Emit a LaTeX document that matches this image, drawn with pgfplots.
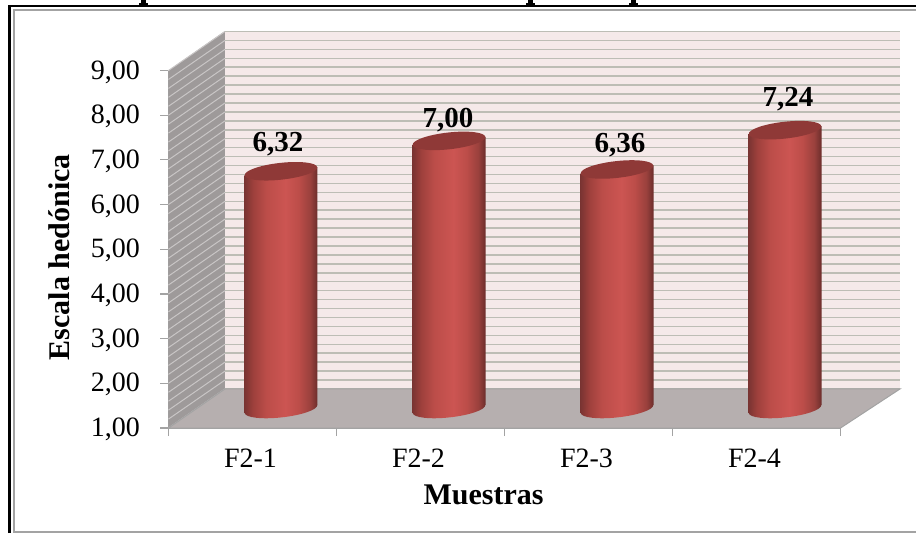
\documentclass[border=0pt]{standalone}
\usepackage{fontspec}
\setmainfont{Liberation Serif}
\usepackage{pgfplots}
\usepackage{pgfplotstable}
\pgfplotsset{compat=1.18}

\definecolor{backwall}{HTML}{F5E9E9}
\definecolor{gridc}{HTML}{BDBDB5}
\definecolor{sidewall}{HTML}{9E9A9A}
\definecolor{sideline}{HTML}{C9C6C6}
\definecolor{floorc}{HTML}{B6AFAF}
\definecolor{axisc}{HTML}{A3A3A3}
\definecolor{capc}{HTML}{8F3937}
\definecolor{cyl0}{HTML}{7A3432}
\definecolor{cyl1}{HTML}{9E403C}
\definecolor{cyl2}{HTML}{BC4D49}
\definecolor{cyl3}{HTML}{CC5552}
\definecolor{cyl4}{HTML}{9A413D}
\definecolor{cyl5}{HTML}{6C2D2B}

% cylinder body, visible part is 25bp..75bp
\pgfdeclarehorizontalshading{cyl}{100bp}{
  color(0bp)=(cyl0); color(25bp)=(cyl0); color(31bp)=(cyl1);
  color(40bp)=(cyl2); color(53bp)=(cyl3); color(62bp)=(cyl2); color(70bp)=(cyl4);
  color(75bp)=(cyl5); color(100bp)=(cyl5)}

\pgfdeclareplotmark{cylbase}{\pgfscope
  \pgftransformshift{\pgfpoint{28.5pt}{19pt}}%
  \pgftransformrotate{6.3}%
  \pgfpathellipse{\pgfpointorigin}{\pgfpoint{36.5pt}{0pt}}{\pgfpoint{0pt}{8.4pt}}%
  \pgfshadepath{cyl}{0}\pgfusepath{discard}\endpgfscope}
\pgfdeclareplotmark{cyltop}{\pgfscope
  \pgftransformshift{\pgfpoint{28.5pt}{19pt}}%
  \pgftransformrotate{6.3}%
  \pgfpathellipse{\pgfpointorigin}{\pgfpoint{36.5pt}{0pt}}{\pgfpoint{0pt}{8.4pt}}%
  \pgfsetfillcolor{capc}\pgfusepath{fill}\endpgfscope}

\pgfplotstableread{
x y dx dy
0 6.32 25.5 46
1 7.00 27.5 40
2 6.36 31.5 43.5
3 7.24 31.5 50
}\scores

\begin{document}
\begin{tikzpicture}
  \path[use as bounding box] (-168.5pt,-105pt) rectangle (747.5pt,428pt);
  % chart frame, title is cut off by the image edge
  \draw[black,line width=2.6pt] (-159pt,-105pt) -- (-159pt,422pt) -- (747.5pt,422pt);
  \draw[axisc,line width=2.2pt] (-154.5pt,-105pt) -- (-154.5pt,418pt) -- (747.5pt,418pt);
  \draw[axisc,line width=1.5pt] (-154.5pt,-104pt) -- (747.5pt,-104pt);
  \foreach \tx in {-25,362,465}{
    \fill[black] (\tx pt-2.5pt,423pt) rectangle (\tx pt+2.5pt,428pt);
    \fill[black] (\tx pt-4.5pt,423pt) rectangle (\tx pt+4.5pt,425pt);
  }
  \begin{axis}[
    scale only axis,
    width=672pt, height=357.5pt,
    clip=false,
    xmin=-0.5, xmax=3.5,
    ymin=1, ymax=9,
    axis lines=left,
    axis line style={-,draw=axisc,line width=1.4pt},
    tick style={draw=axisc,line width=1.2pt},
    tick align=outside,
    major tick length=8pt,
    xtick={-0.5,0.5,1.5,2.5,3.5},
    xticklabels={F2-1,F2-2,F2-3,F2-4,{}},
    ytick={1,2,...,9},
    tick label style={font=\fontsize{28}{30}\selectfont},
    xticklabel style={xshift=82pt,yshift=-9pt},
    yticklabel style={xshift=-17pt,yshift=-1.5pt},
    /pgf/number format/.cd,fixed,fixed zerofill,precision=2,use comma,assume math mode=true,
    /pgfplots/.cd,
    xlabel={Muestras},
    ylabel={Escala hedónica},
    label style={font=\fontsize{30}{32}\selectfont\bfseries},
    xlabel style={at={(axis description cs:0.469,-0.187)},anchor=center},
    ylabel style={at={(axis description cs:-0.163,0.478)},anchor=center},
  ]
    % walls
    \addplot[fill=backwall,draw=none] coordinates {(-0.164,1.873) (3.854,1.873) (3.854,9.883) (-0.164,9.883)} -- cycle;
    \pgfplotsforeachungrouped \v in {1.873,2.073,...,9.9}{
      \edef\temp{\noexpand\addplot[gridc,line width=1.5pt] coordinates {(-0.164,\v) (3.854,\v)};}
      \temp
    }
    \addplot[fill=sidewall,draw=none] coordinates {(-0.5,1) (-0.164,1.873) (-0.164,9.883) (-0.5,9)} -- cycle;
    \pgfplotsforeachungrouped \v in {1,1.2,...,8.9}{
      \pgfmathsetmacro\w{\v+0.873}
      \edef\temp{\noexpand\addplot[sideline,line width=1pt] coordinates {(-0.5,\v) (-0.164,\w)};}
      \temp
    }
    \addplot[fill=floorc,draw=axisc,line width=1pt] coordinates {(-0.5,1) (3.5,1) (3.854,1.873) (-0.164,1.873)} -- cycle;
    % cylinders, one plot per bar so each gets its own gradient; slant follows the tilted ends
    \addplot[only marks,mark=cylbase] table[x=x,y expr=1] {\scores};
    \pgfplotsinvokeforeach{0,1,2,3}{
      \addplot[ybar,bar width=73pt,bar shift=28.5pt,yshift={19-0.11*(112.5+168*#1)},yslant=0.11,
        draw=none,shade,shading=cyl,
        restrict x to domain=#1:#1] table[x=x,y=y] {\scores};
    }
    \addplot[only marks,mark=cyltop,
      visualization depends on={\thisrow{dx} \as \dx},
      visualization depends on={\thisrow{dy} \as \dy},
      nodes near coords={\pgfmathprintnumber{\pgfplotspointmeta}},
      every node near coord/.append style={anchor=center,xshift=\dx pt,yshift=\dy pt,
        font=\fontsize{29}{31}\selectfont\bfseries,inner sep=0pt},
    ] table[x=x,y=y] {\scores};
  \end{axis}
\end{tikzpicture}
\end{document}
